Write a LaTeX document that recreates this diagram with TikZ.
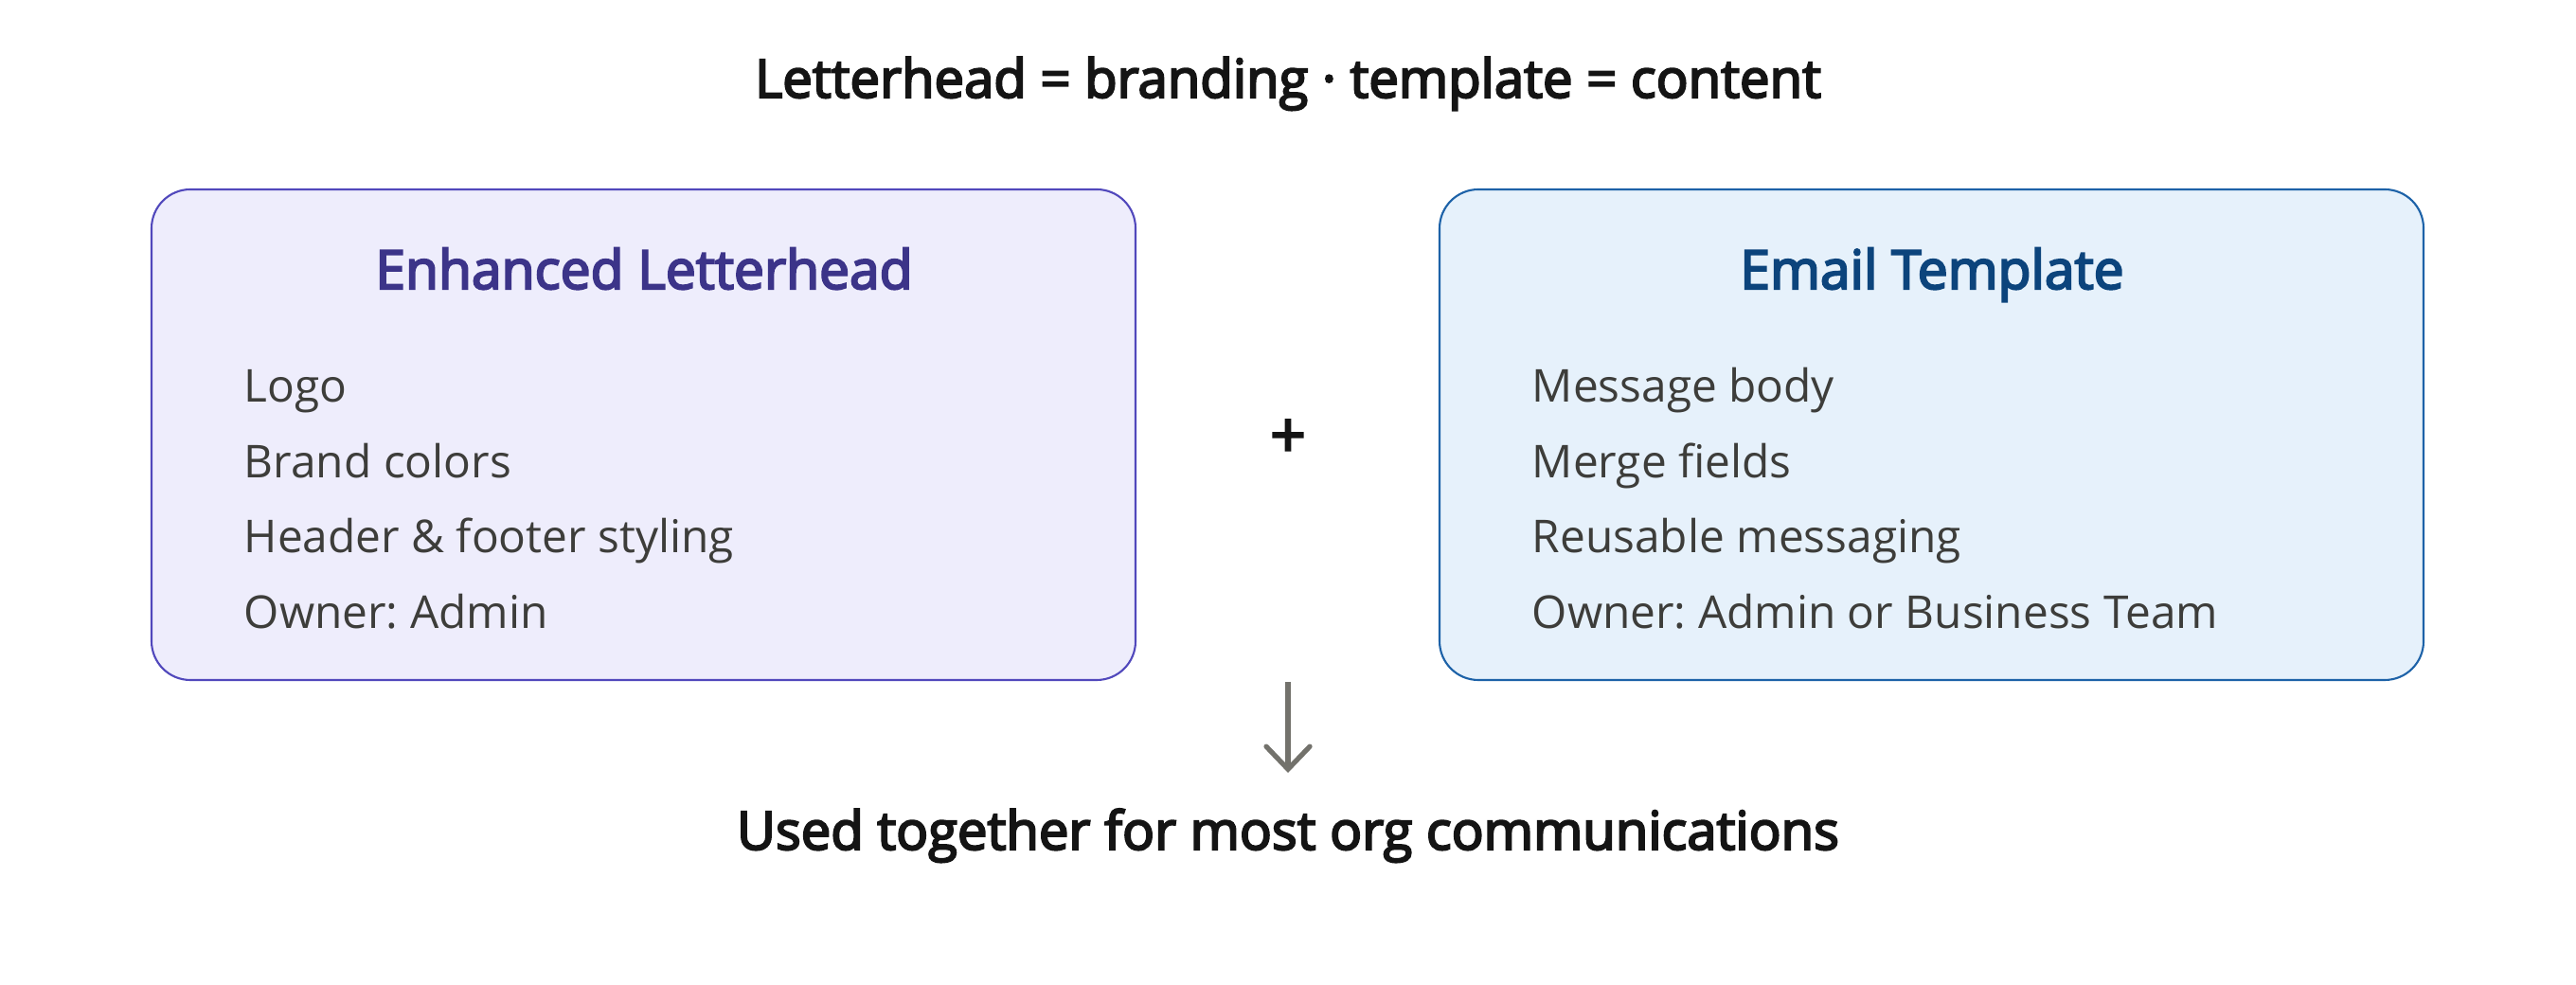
\documentclass[tikz,border=0pt]{standalone}
\usepackage{fontspec}
\setmainfont{Open Sans}
\usepackage{tikz}
\usepackage{xcolor}
\usetikzlibrary{arrows.meta}

% heavier strokes for the headings (fill + stroke text)
\newcommand\thicktext[1]{\special{pdf:literal direct 2 Tr 0.6 w}#1\special{pdf:literal direct 0 Tr}}

\definecolor{lhFill}{HTML}{EEEDFC}
\definecolor{lhLine}{HTML}{5148BC}
\definecolor{lhHead}{HTML}{3C3489}
\definecolor{etFill}{HTML}{E6F1FB}
\definecolor{etLine}{HTML}{1D62A8}
\definecolor{etHead}{HTML}{0C447C}
\definecolor{itemInk}{HTML}{3D3D3A}
\definecolor{arrowInk}{HTML}{73726C}

\tikzset{
  bigtext/.style={font=\fontsize{16pt}{19pt}\selectfont,text=black!92,inner sep=0pt},
  cardbox/.style={rounded corners=0.41cm,line width=0.6pt,minimum width=10.39cm,minimum height=5.18cm,inner sep=0pt},
  cardhead/.style={font=\fontsize{16.2pt}{19pt}\selectfont,anchor=base,inner sep=0pt},
  carditem/.style={font=\fontsize{13.6pt}{16pt}\selectfont,text=itemInk,anchor=base west,inner sep=0pt},
}

\begin{document}
\frenchspacing
\begin{tikzpicture}[x=1cm,y=1cm,line width=0.5pt]
        \useasboundingbox (0,0) rectangle (27.2,10.4);

        % ------------------------------------------------ title
        \node[bigtext,anchor=base] (title) at (13.6,9.37) {\thicktext{Letterhead = branding · template = content}};

        % ------------------------------------------------ left card: letterhead
        \node[cardbox,draw=lhLine,fill=lhFill] (letterhead) at (6.795,5.81) {};
        \node[cardhead,text=lhHead] (lhhead) at (6.8,7.35) {\thicktext{Enhanced Letterhead}};
        \node[carditem] (lh1) at (2.57,6.15) {Logo};
        \node[carditem] (lh2) at (2.57,5.35) {Brand colors};
        \node[carditem] (lh3) at (2.57,4.56) {Header \& footer styling};
        \node[carditem] (lh4) at (2.57,3.76) {Owner: Admin};

        % ------------------------------------------------ right card: template
        \node[cardbox,draw=etLine,fill=etFill] (template) at (20.395,5.81) {};
        \node[cardhead,text=etHead] (ethead) at (20.4,7.35) {\thicktext{Email Template}};
        \node[carditem] (et1) at (16.17,6.15) {Message body};
        \node[carditem] (et2) at (16.17,5.35) {Merge fields};
        \node[carditem] (et3) at (16.17,4.56) {Reusable messaging};
        \node[carditem] (et4) at (16.17,3.76) {Owner: Admin or Business Team};

        % plus between the cards
        \node[bigtext,font=\fontsize{19pt}{19pt}\selectfont] (plus) at (13.6,5.77) {\thicktext{+}};

        % ------------------------------------------------ result
        \node[bigtext,anchor=base] (usage) at (13.6,1.43) {\thicktext{Used together for most org communications}};
        \coordinate (arrowtop) at (13.6,3.2);
        \draw[arrowInk,line width=1.5pt,-{Straight Barb[length=2.4mm,width=4.6mm,line cap=round]}]
            (arrowtop) -- (13.6,2.24);

        \end{tikzpicture}
\end{document}
